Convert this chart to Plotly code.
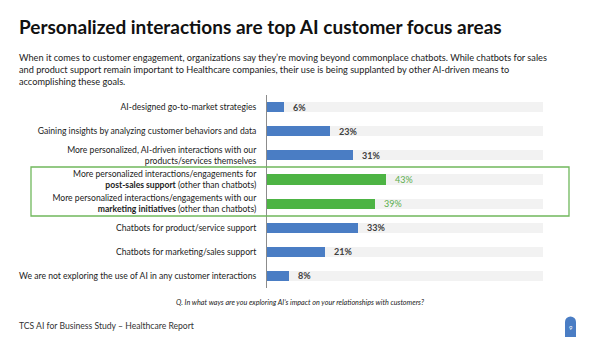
import plotly.graph_objects as go

categories = [
    "AI-designed go-to-market strategies",
    "Gaining insights by analyzing customer behaviors and data",
    "More personalized, AI-driven interactions with our<br>products/services themselves",
    "More personalized interactions/engagements for<br><b>post-sales support</b> (other than chatbots)",
    "More personalized interactions/engagements with our<br><b>marketing initiatives</b> (other than chatbots)",
    "Chatbots for product/service support",
    "Chatbots for marketing/sales support",
    "We are not exploring the use of AI in any customer interactions",
]
values = [6, 23, 31, 43, 39, 33, 21, 8]
highlight = [False, False, False, True, True, False, False, False]
track_max = 100

title = "Personalized interactions are top AI customer focus areas"
subtitle = ("When it comes to customer engagement, organizations say they\u2019re moving beyond commonplace chatbots. While chatbots for sales<br>"
            "and product support remain important to Healthcare companies, their use is being supplanted by other AI-driven means to<br>"
            "accomplishing these goals.")
question = "Q. In what ways are you exploring AI\u2019s impact on your relationships with customers?"
footer = "TCS AI for Business Study \u2013 Healthcare Report"
page_no = "9"

W, H = 600, 337
L, R, T, B = 267, 57, 95, 49
PW, PH = W - L - R, H - T - B

def px(x):
    return (x - L) / PW

def py(y):
    return (H - B - y) / PH

BLUE = "#4A7DC4"
GREEN = "#4DB444"
GREEN_TXT = "#5AAE4C"
TRACK = "#F2F2F2"
FONT = "Lato"

ids = list(range(len(categories)))

fig = go.Figure()
fig.add_trace(go.Bar(
    y=ids, x=[track_max] * len(ids), orientation="h",
    marker=dict(color=TRACK, line=dict(width=0)), width=0.42,
    hoverinfo="skip", showlegend=False,
))
fig.add_trace(go.Bar(
    y=ids, x=values, orientation="h",
    marker=dict(color=[GREEN if h else BLUE for h in highlight], line=dict(width=0)),
    width=0.42, showlegend=False,
))

for i, (v, h) in enumerate(zip(values, highlight)):
    fig.add_annotation(
        x=v, y=i, xref="x", yref="y", text=(f"{v}%" if h else f"<b>{v}%</b>"),
        showarrow=False, xanchor="left", yanchor="middle", xshift=7,
        font=dict(family=FONT, size=9, color=GREEN_TXT if h else "#404040"),
    )

# title and texts
fig.add_annotation(x=px(17), y=py(26), xref="paper", yref="paper", text=f"<b>{title}</b>",
                   showarrow=False, xanchor="left", yanchor="middle",
                   font=dict(family=FONT, size=19, color="#111111"))
fig.add_annotation(x=px(17), y=py(69), xref="paper", yref="paper", text=subtitle,
                   showarrow=False, xanchor="left", yanchor="middle", align="left",
                   font=dict(family=FONT, size=9.2, color="#222222"))
fig.add_annotation(x=px(300), y=py(302), xref="paper", yref="paper", text=f"<i>{question}</i>",
                   showarrow=False, xanchor="center", yanchor="middle",
                   font=dict(family=FONT, size=7.2, color="#222222"))
fig.add_annotation(x=px(17), y=py(326), xref="paper", yref="paper", text=footer,
                   showarrow=False, xanchor="left", yanchor="middle",
                   font=dict(family=FONT, size=8.6, color="#333333"))

# green highlight box
fig.add_shape(type="rect", xref="paper", yref="paper",
              x0=px(31), x1=px(569), y0=py(216), y1=py(167),
              line=dict(color="#70B85C", width=1.3), fillcolor="rgba(0,0,0,0)")

# page badge
fig.add_shape(type="circle", xref="paper", yref="paper",
              x0=px(565), x1=px(576), y0=py(327.5), y1=py(316.5),
              line=dict(width=0), fillcolor="#4A7DC4")
fig.add_shape(type="rect", xref="paper", yref="paper",
              x0=px(565), x1=px(576), y0=py(337), y1=py(322),
              line=dict(width=0), fillcolor="#4A7DC4")
fig.add_annotation(x=px(570.5), y=py(327), xref="paper", yref="paper", text=page_no,
                   showarrow=False, xanchor="center", yanchor="middle",
                   font=dict(family=FONT, size=6, color="white"))

fig.update_layout(
    width=W, height=H,
    margin=dict(l=L, r=R, t=T, b=B, pad=0, autoexpand=False),
    paper_bgcolor="white", plot_bgcolor="white",
    barmode="overlay", bargap=0,
    font=dict(family=FONT, color="#222222"),
    xaxis=dict(range=[0, track_max], visible=False, fixedrange=True, automargin=False),
    yaxis=dict(
        tickmode="array", tickvals=ids, ticktext=categories,
        range=[len(ids) - 0.5, -0.5], automargin=False,
        showline=True, linecolor="#8C8C8C", linewidth=1,
        showgrid=False, zeroline=False,
        ticks="outside", ticklen=8, tickcolor="rgba(0,0,0,0)",
        tickfont=dict(family=FONT, size=8.6, color="#222222"),
    ),
)

fig.write_html("out.html")
